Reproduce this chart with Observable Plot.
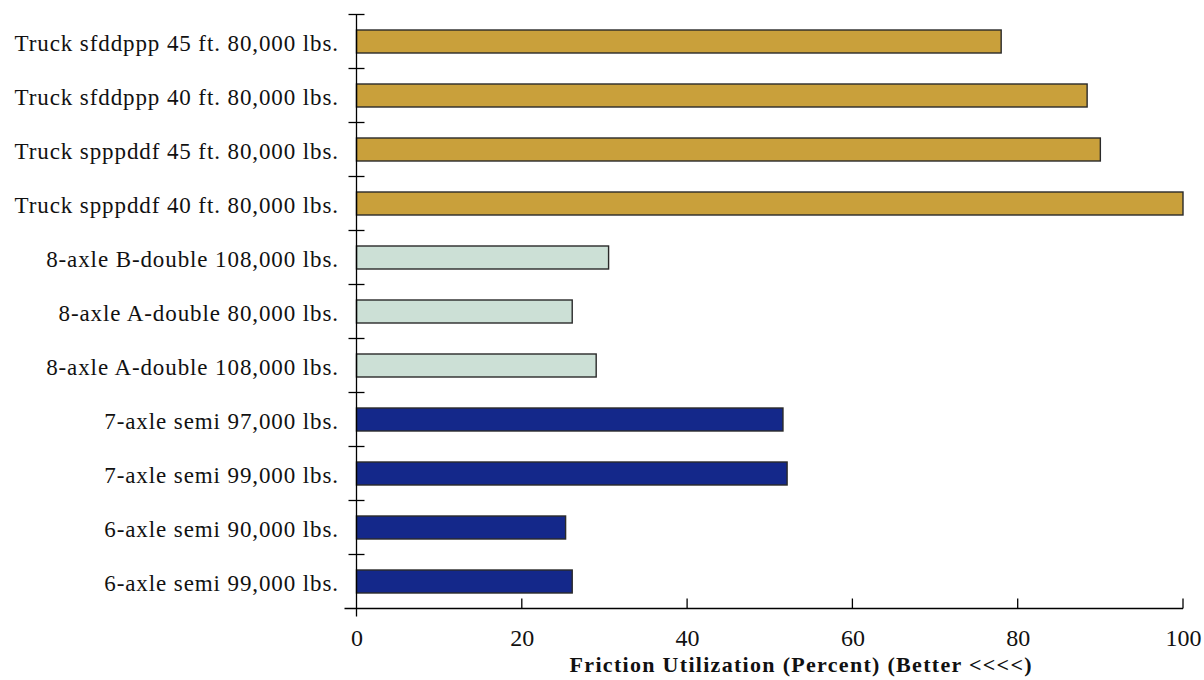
<!DOCTYPE html>
<html>
<head>
<meta charset="utf-8">
<script src="https://cdn.jsdelivr.net/npm/d3@7"></script>
<script src="https://cdn.jsdelivr.net/npm/@observablehq/plot@0.6"></script>
<style>
  html, body { margin: 0; padding: 0; background: #fff; }
  #chart svg { display: block; }
  #chart svg [aria-label="y-axis tick label"] { letter-spacing: 0.9px; }
  #chart svg [aria-label="text"] { letter-spacing: 1.3px; }
</style>
</head>
<body>
<div id="chart"></div>
<script>
// Categories, top to bottom
const categories = [
  "Truck sfddppp 45 ft. 80,000 lbs.",
  "Truck sfddppp 40 ft. 80,000 lbs.",
  "Truck spppddf 45 ft. 80,000 lbs.",
  "Truck spppddf 40 ft. 80,000 lbs.",
  "8-axle B-double 108,000 lbs.",
  "8-axle A-double 80,000 lbs.",
  "8-axle A-double 108,000 lbs.",
  "7-axle semi 97,000 lbs.",
  "7-axle semi 99,000 lbs.",
  "6-axle semi 90,000 lbs.",
  "6-axle semi 99,000 lbs."
];
// Friction utilization (percent)
const values = [78.0, 88.4, 90.0, 100.0, 30.5, 26.1, 29.0, 51.6, 52.1, 25.3, 26.1];
const groups = ["truck", "truck", "truck", "truck", "double", "double", "double", "semi", "semi", "semi", "semi"];
const groupNames = ["truck", "double", "semi"];
const groupColors = ["#C9A03B", "#CCE0D6", "#14288A"];
const xTicks = [0, 20, 40, 60, 80, 100];
const xLabel = "Friction Utilization (Percent) (Better <<<<)";

const data = categories.map((c, i) => ({label: c, value: values[i], group: groups[i]}));

const FONT = "'Liberation Serif', 'Times New Roman', serif";

// custom axis-lines mark using the plot's own scales
function axisLines(index, scales, values, dims) {
  const x = scales.x, y = scales.y;
  const g = d3.create("svg:g").attr("stroke", "#000").attr("stroke-width", 1.3).attr("fill", "none");
  const x0 = x(0);
  const step = y.step(), bw = y.bandwidth();
  const bounds = categories.map(c => y(c) - (step - bw) / 2);
  bounds.push(y(categories[categories.length - 1]) + bw + (step - bw) / 2);
  const yTop = bounds[0], yBot = bounds[bounds.length - 1];
  // y axis line
  g.append("line").attr("x1", x0).attr("x2", x0).attr("y1", yTop).attr("y2", yBot + 8);
  // boundary ticks crossing the y axis
  bounds.slice(0, -1).forEach(b => {
    g.append("line").attr("x1", x0 - 8).attr("x2", x0 + 8).attr("y1", b).attr("y2", b);
  });
  // x axis line
  g.append("line").attr("x1", x0 - 12).attr("x2", x(100)).attr("y1", yBot).attr("y2", yBot);
  // x ticks (pointing up)
  xTicks.filter(t => t > 0).forEach(t => {
    g.append("line").attr("x1", x(t)).attr("x2", x(t)).attr("y1", yBot - 10).attr("y2", yBot);
  });
  return g.node();
}

const plot = Plot.plot({
  width: 1204,
  height: 680,
  marginLeft: 356.5,
  marginRight: 21,
  marginTop: 11,
  marginBottom: 68,
  style: {fontFamily: FONT, background: "#fff", overflow: "visible"},
  x: {domain: [0, 100]},
  y: {domain: categories, paddingInner: 0.58, paddingOuter: 0.29},
  color: {domain: groupNames, range: groupColors},
  marks: [
    Plot.barX(data, {x: "value", y: "label", fill: "group", stroke: "#2a2a2a", strokeWidth: 1.4}),
    Plot.axisY({tickSize: 0, tickPadding: 18, fontSize: 23, dy: 2, label: null, fill: "#111"}),
    Plot.axisX({ticks: xTicks, tickSize: 0, tickPadding: 16, fontSize: 24, label: null, fill: "#111"}),
    Plot.text([xLabel], {frameAnchor: "bottom", dy: 59, dx: 31, fontSize: 22, fontWeight: "bold", fill: "#111"}),
    axisLines
  ]
});
document.getElementById("chart").appendChild(plot);
</script>
</body>
</html>
